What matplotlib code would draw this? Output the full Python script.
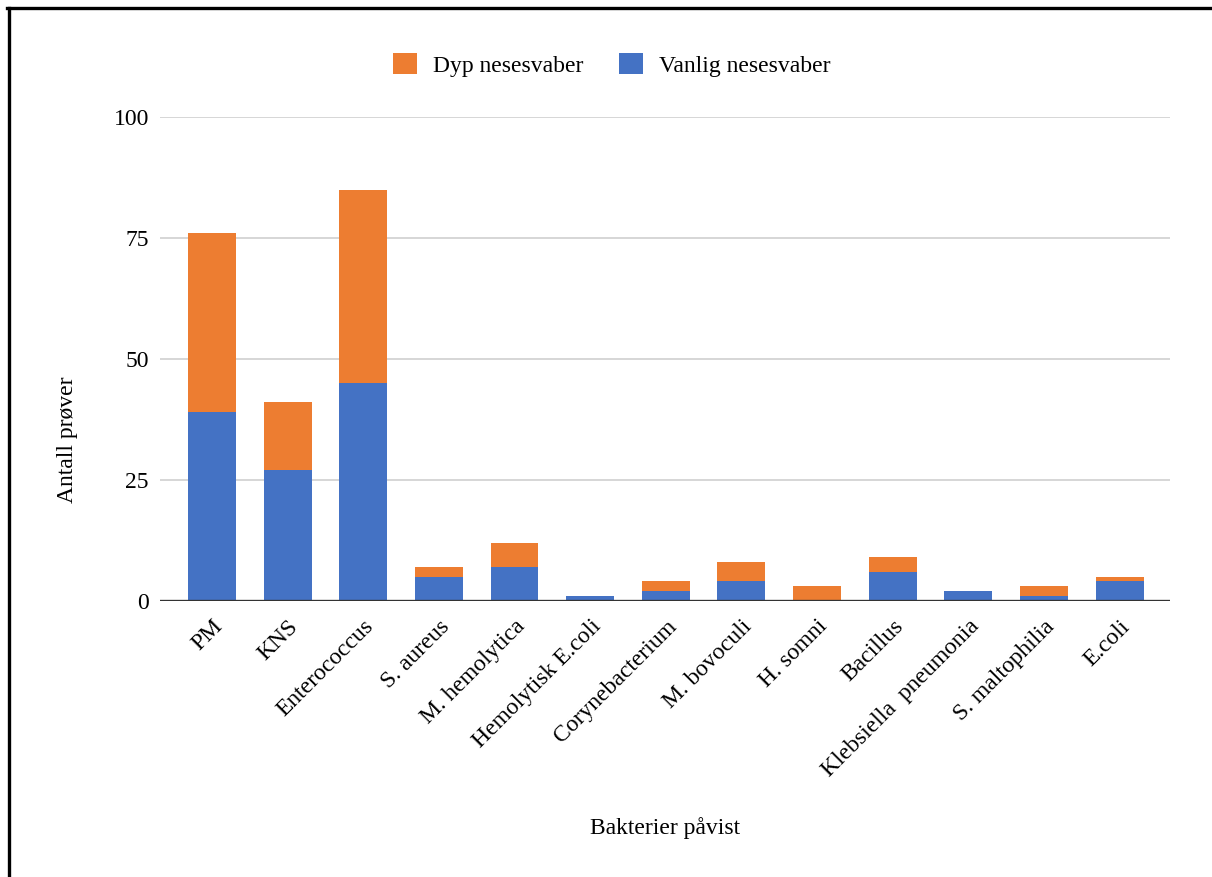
import matplotlib
matplotlib.use("Agg")
import matplotlib.pyplot as plt
from matplotlib.patches import Patch
from matplotlib.lines import Line2D
import numpy as np

categories = ["PM", "KNS", "Enterococcus", "S. aureus", "M. hemolytica",
              "Hemolytisk E.coli", "Corynebacterium", "M. bovoculi", "H. somni",
              "Bacillus", "Klebsiella  pneumonia", "S. maltophilia", "E.coli"]
vanlig = [39, 27, 45, 5, 7, 1, 2, 4, 0, 6, 2, 1, 4]
dyp = [37, 14, 40, 2, 5, 0, 2, 4, 3, 3, 0, 2, 1]
yticks = [0, 25, 50, 75, 100]

blue = "#4472C4"
orange = "#ED7D31"
FS = 17

plt.rcParams['font.family'] = ['Liberation Serif', 'DejaVu Serif']

fig = plt.figure(figsize=(12.12, 8.77), dpi=100)
ax = fig.add_axes([0.132, 0.315, 0.833, 0.5515])

x = np.arange(len(categories))
ax.bar(x, vanlig, width=0.634, color=blue, zorder=3, label="Vanlig nesesvaber")
ax.bar(x, dyp, width=0.634, bottom=vanlig, color=orange, zorder=3, label="Dyp nesesvaber")

ax.set_xlim(-0.687, len(categories) - 1 + 0.66)
ax.set_ylim(0, 100)
ax.set_yticks(yticks)
ax.set_yticklabels([str(v) for v in yticks], fontsize=FS)
ax.yaxis.grid(True, color="#D0D0D0", linewidth=1.2, zorder=0)
ax.set_axisbelow(True)
ax.axhline(0, color="#333333", linewidth=2.4, zorder=4)

ax.set_xticks(x)
ax.set_xticklabels(categories, rotation=45, ha="right", rotation_mode="anchor", fontsize=FS)
ax.tick_params(axis="y", length=0, pad=8)
ax.tick_params(axis="x", length=0, pad=11)

for s in ax.spines.values():
    s.set_visible(False)

ax.set_ylabel("Antall prøver", fontsize=FS)
ax.yaxis.set_label_coords(-0.081, 0.333)
ax.set_xlabel("Bakterier påvist", fontsize=FS)
ax.xaxis.set_label_coords(0.5, -0.447)

handles = [Patch(facecolor=orange, edgecolor='none'), Patch(facecolor=blue, edgecolor='none')]
fig.legend(handles, ["Dyp nesesvaber", "Vanlig nesesvaber"], loc="center",
           bbox_to_anchor=(0.505, 0.926), ncol=2, frameon=False, fontsize=FS,
           handlelength=1.0, handleheight=1.0, columnspacing=1.5, handletextpad=0.7)

# figure frame (top and left edges)
fig.add_artist(Line2D([8.5 / 1212, 8.5 / 1212], [0, 1 - 7.5 / 877], color="black",
                      linewidth=2.4, transform=fig.transFigure))
fig.add_artist(Line2D([7 / 1212, 1], [1 - 7.5 / 877, 1 - 7.5 / 877], color="black",
                      linewidth=2.4, transform=fig.transFigure))

fig.savefig("out.png", dpi=100)
